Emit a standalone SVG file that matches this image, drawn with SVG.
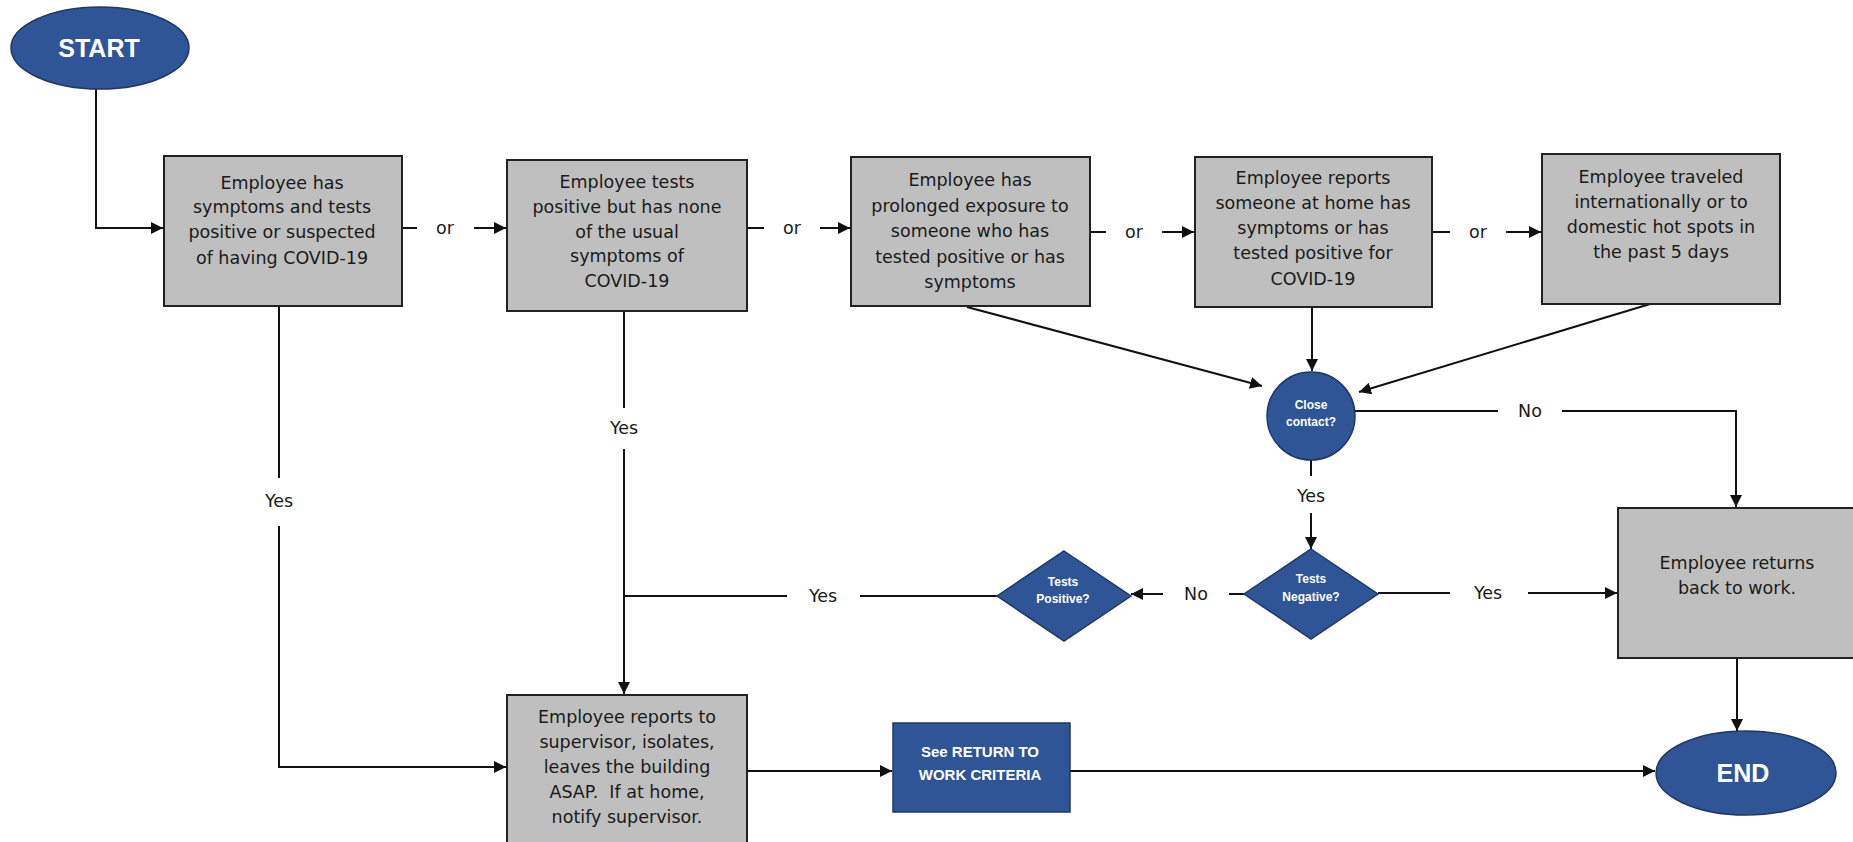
<svg xmlns="http://www.w3.org/2000/svg" width="1853" height="842" viewBox="0 0 1853 842">
<style>
.box{fill:#bfbfbf;stroke:#222;stroke-width:2}
.blue{fill:#2f5597;stroke:#1f3864;stroke-width:1.5}
.t{font-family:"DejaVu Sans",sans-serif;font-size:17.5px;fill:#1a1a1a;text-anchor:middle}
.w{font-family:"Liberation Sans",Arial,sans-serif;font-weight:bold;fill:#fff;text-anchor:middle}
.ln{fill:none;stroke:#111;stroke-width:2}
</style>
<defs>
<marker id="ah" viewBox="0 0 12 12" refX="12" refY="6" markerWidth="12" markerHeight="12" markerUnits="userSpaceOnUse" orient="auto">
<path d="M0,0 L12,6 L0,12 Z" fill="#111"/>
</marker>
</defs>
<rect width="1853" height="842" fill="#fff"/>

<g id="connectors">
<path class="ln" d="M96 89 V228 H163" marker-end="url(#ah)"/>
<path class="ln" d="M402 228 H417"/><text class="t" x="445" y="234">or</text><path class="ln" d="M474 228 H506" marker-end="url(#ah)"/>
<path class="ln" d="M747 228 H764"/><text class="t" x="792" y="234">or</text><path class="ln" d="M820 228 H850" marker-end="url(#ah)"/>
<path class="ln" d="M1090 232 H1106"/><text class="t" x="1134" y="238">or</text><path class="ln" d="M1162 232 H1194" marker-end="url(#ah)"/>
<path class="ln" d="M1432 232 H1450"/><text class="t" x="1478" y="238">or</text><path class="ln" d="M1506 232 H1541" marker-end="url(#ah)"/>
<path class="ln" d="M1312 307 V371" marker-end="url(#ah)"/>
<path class="ln" d="M967 307 L1262 386" marker-end="url(#ah)"/>
<path class="ln" d="M1650 304 L1359 392" marker-end="url(#ah)"/>
<path class="ln" d="M1355 411 H1498"/><text class="t" x="1530" y="417">No</text><path class="ln" d="M1562 411 H1736 V507" marker-end="url(#ah)"/>
<path class="ln" d="M1311 460 V476"/><text class="t" x="1311" y="502">Yes</text><path class="ln" d="M1311 513 V549" marker-end="url(#ah)"/>
<path class="ln" d="M1378 593 H1450"/><text class="t" x="1488" y="599">Yes</text><path class="ln" d="M1528 593 H1617" marker-end="url(#ah)"/>
<path class="ln" d="M1244 594 H1229"/><text class="t" x="1196" y="600">No</text><path class="ln" d="M1163 594 H1131" marker-end="url(#ah)"/>
<path class="ln" d="M997 596 H860"/><text class="t" x="823" y="602">Yes</text><path class="ln" d="M787 596 H624"/>
<path class="ln" d="M624 311 V408"/><text class="t" x="624" y="434">Yes</text><path class="ln" d="M624 449 V694" marker-end="url(#ah)"/>
<path class="ln" d="M279 307 V478"/><text class="t" x="279" y="507">Yes</text><path class="ln" d="M279 526 V767 H506" marker-end="url(#ah)"/>
<path class="ln" d="M747 771 H892" marker-end="url(#ah)"/>
<path class="ln" d="M1070 771 H1655" marker-end="url(#ah)"/>
<path class="ln" d="M1737 658 V731" marker-end="url(#ah)"/>
</g>

<g id="start">
<ellipse class="blue" cx="100" cy="48" rx="89" ry="41"/>
<text class="w" x="99" y="57" font-size="25">START</text>
</g>

<g id="box1">
<rect class="box" x="164" y="156" width="238" height="150"/>
<text class="t"><tspan x="282" y="189">Employee has</tspan><tspan x="282" y="213">symptoms and tests</tspan><tspan x="282" y="238">positive or suspected</tspan><tspan x="282" y="264">of having COVID-19</tspan></text>
</g>

<g id="box2">
<rect class="box" x="507" y="160" width="240" height="151"/>
<text class="t"><tspan x="627" y="188">Employee tests</tspan><tspan x="627" y="213">positive but has none</tspan><tspan x="627" y="238">of the usual</tspan><tspan x="627" y="262">symptoms of</tspan><tspan x="627" y="287">COVID-19</tspan></text>
</g>

<g id="box3">
<rect class="box" x="851" y="157" width="239" height="149"/>
<text class="t"><tspan x="970" y="186">Employee has</tspan><tspan x="970" y="212">prolonged exposure to</tspan><tspan x="970" y="237">someone who has</tspan><tspan x="970" y="263">tested positive or has</tspan><tspan x="970" y="288">symptoms</tspan></text>
</g>

<g id="box4">
<rect class="box" x="1195" y="157" width="237" height="150"/>
<text class="t"><tspan x="1313" y="184">Employee reports</tspan><tspan x="1313" y="209">someone at home has</tspan><tspan x="1313" y="234">symptoms or has</tspan><tspan x="1313" y="259">tested positive for</tspan><tspan x="1313" y="285">COVID-19</tspan></text>
</g>

<g id="box5">
<rect class="box" x="1542" y="154" width="238" height="150"/>
<text class="t"><tspan x="1661" y="183">Employee traveled</tspan><tspan x="1661" y="208">internationally or to</tspan><tspan x="1661" y="233">domestic hot spots in</tspan><tspan x="1661" y="258">the past 5 days</tspan></text>
</g>

<g id="close-contact">
<circle class="blue" cx="1311" cy="416" r="44"/>
<text class="w" font-size="12"><tspan x="1311" y="409">Close</tspan><tspan x="1311" y="426">contact?</tspan></text>
</g>

<g id="tests-negative">
<polygon class="blue" points="1311,549 1378,594 1311,639 1244,594"/>
<text class="w" font-size="12"><tspan x="1311" y="583">Tests</tspan><tspan x="1311" y="601">Negative?</tspan></text>
</g>

<g id="tests-positive">
<polygon class="blue" points="1064,551 1131,596 1064,641 997,596"/>
<text class="w" font-size="12"><tspan x="1063" y="586">Tests</tspan><tspan x="1063" y="603">Positive?</tspan></text>
</g>

<g id="box-returns">
<rect class="box" x="1618" y="508" width="240" height="150"/>
<text class="t"><tspan x="1737" y="569">Employee returns</tspan><tspan x="1737" y="594">back to work.</tspan></text>
</g>

<g id="box-isolate">
<rect class="box" x="507" y="695" width="240" height="160"/>
<text class="t"><tspan x="627" y="723">Employee reports to</tspan><tspan x="627" y="748">supervisor, isolates,</tspan><tspan x="627" y="773">leaves the building</tspan><tspan x="627" y="798" xml:space="preserve">ASAP.  If at home,</tspan><tspan x="627" y="823">notify supervisor.</tspan></text>
</g>

<g id="return-criteria">
<rect class="blue" x="893" y="723" width="177" height="89"/>
<text class="w" font-size="15"><tspan x="980" y="757">See RETURN TO</tspan><tspan x="980" y="780">WORK CRITERIA</tspan></text>
</g>

<g id="end">
<ellipse class="blue" cx="1746" cy="773" rx="90" ry="42"/>
<text class="w" x="1743" y="782" font-size="25">END</text>
</g>
</svg>
